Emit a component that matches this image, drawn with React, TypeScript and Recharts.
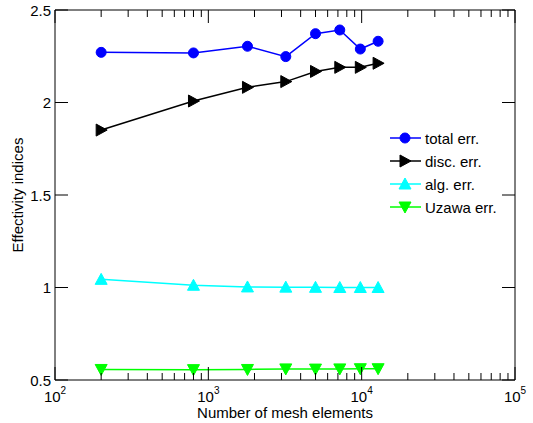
import { LineChart, Line, XAxis, YAxis, Legend } from "recharts";

// number of mesh elements (log x axis)
const meshElements = [200, 800, 1800, 3200, 5000, 7200, 9800, 12800];
const totalErr = [2.271, 2.268, 2.304, 2.248, 2.372, 2.392, 2.289, 2.331];
const discErr = [1.851, 2.008, 2.082, 2.113, 2.168, 2.19, 2.19, 2.212];
const algErr = [1.044, 1.012, 1.003, 1.002, 1.001, 1.0, 1.0, 1.0];
const uzawaErr = [0.557, 0.556, 0.557, 0.56, 0.559, 0.56, 0.561, 0.561];

const seriesNames = ["total err.", "disc. err.", "alg. err.", "Uzawa err."];
const xMajorTicks = [100, 1000, 10000, 100000];
const yTicks = [0.5, 1, 1.5, 2, 2.5];

// majors plus the 2..9 minors of each decade
const xTicks: number[] = [];
xMajorTicks.forEach((m, i) => {
  xTicks.push(m);
  if (i < xMajorTicks.length - 1) for (let k = 2; k <= 9; k++) xTicks.push(m * k);
});

const data = meshElements.map((n, i) => ({
  n,
  total: totalErr[i],
  disc: discErr[i],
  alg: algErr[i],
  uzawa: uzawaErr[i],
}));

type Shape = "circle" | "right" | "up" | "down";

const series: { key: string; name: string; color: string; shape: Shape }[] = [
  { key: "total", name: seriesNames[0], color: "#0000ff", shape: "circle" },
  { key: "disc", name: seriesNames[1], color: "#000000", shape: "right" },
  { key: "alg", name: seriesNames[2], color: "#00ffff", shape: "up" },
  { key: "uzawa", name: seriesNames[3], color: "#00ff00", shape: "down" },
];

const FONT = "'Liberation Sans', Arial, Helvetica, sans-serif";
const MAJOR = 13;
const MINOR = 7;

function Marker({ cx, cy, shape, color }: { cx: number; cy: number; shape: Shape; color: string }) {
  if (cx == null || cy == null) return null;
  if (shape === "circle") return <circle cx={cx} cy={cy} r={5} fill={color} stroke={color} />;
  let pts = "";
  if (shape === "right") pts = `${cx - 5},${cy - 6} ${cx + 6},${cy} ${cx - 5},${cy + 6}`;
  if (shape === "up") pts = `${cx - 6},${cy + 5} ${cx + 6},${cy + 5} ${cx},${cy - 6}`;
  if (shape === "down") pts = `${cx - 6},${cy - 5} ${cx + 6},${cy - 5} ${cx},${cy + 6}`;
  return <polygon points={pts} fill={color} stroke={color} />;
}

const isMajor = (v: number) => xMajorTicks.includes(v);

const BottomTick = ({ x, y, payload }: any) => {
  const v = payload.value;
  const major = isMajor(v);
  return (
    <g>
      <line x1={x} x2={x} y1={y} y2={y - (major ? MAJOR : MINOR)} stroke="#000" />
      {major && (
        <text x={x} y={y + 22} textAnchor="middle" fontSize={15} fill="#000" fontFamily={FONT}>
          10
          <tspan dy={-8} fontSize={10}>
            {Math.round(Math.log10(v))}
          </tspan>
        </text>
      )}
    </g>
  );
};

const TopTick = ({ x, y, payload }: any) => {
  const major = isMajor(payload.value);
  return <line x1={x} x2={x} y1={y} y2={y + (major ? MAJOR : MINOR)} stroke="#000" />;
};

const LeftTick = ({ x, y, payload }: any) => (
  <g>
    <line x1={x} x2={x + MAJOR} y1={y} y2={y} stroke="#000" />
    <text x={x - 4} y={y + 5.5} textAnchor="end" fontSize={15} fill="#000" fontFamily={FONT}>
      {payload.value}
    </text>
  </g>
);

const RightTick = ({ x, y }: any) => <line x1={x} x2={x - MAJOR} y1={y} y2={y} stroke="#000" />;

function LegendBox() {
  return (
    <svg width={130} height={96} style={{ display: "block" }}>
      {series.map((s, i) => {
        const cy = 10 + i * 23;
        return (
          <g key={s.key}>
            <line x1={2} x2={33} y1={cy} y2={cy} stroke={s.color} strokeWidth={1.5} />
            <Marker cx={17} cy={cy} shape={s.shape} color={s.color} />
            <text x={37} y={cy + 5.5} fontSize={15} fill="#000" fontFamily={FONT}>
              {s.name}
            </text>
          </g>
        );
      })}
    </svg>
  );
}

export default function App() {
  return (
    <div style={{ position: "absolute", left: 0, top: 0, fontFamily: FONT, background: "#fff" }}>
      <LineChart width={533} height={423} data={data} margin={{ top: 9, right: 17, left: 0, bottom: 0 }}>
        <XAxis
          dataKey="n"
          type="number"
          scale="log"
          domain={[100, 100000]}
          allowDataOverflow
          ticks={xTicks}
          interval={0}
          height={43}
          tickSize={0}
          tickMargin={0}
          tickLine={false}
          tick={<BottomTick />}
          axisLine={{ stroke: "#000" }}
          label={{ value: "Number of mesh elements", position: "insideBottom", offset: 5, fontSize: 15, fill: "#000" }}
        />
        <XAxis
          xAxisId="top"
          orientation="top"
          dataKey="n"
          type="number"
          scale="log"
          domain={[100, 100000]}
          allowDataOverflow
          ticks={xTicks}
          interval={0}
          height={1}
          tickSize={0}
          tickMargin={0}
          tickLine={false}
          tick={<TopTick />}
          axisLine={{ stroke: "#000" }}
        />
        <YAxis
          type="number"
          domain={[0.5, 2.5]}
          allowDataOverflow
          ticks={yTicks}
          interval={0}
          width={55}
          tickSize={0}
          tickMargin={0}
          tickLine={false}
          tick={<LeftTick />}
          axisLine={{ stroke: "#000" }}
          label={{
            value: "Effectivity indices",
            angle: -90,
            position: "insideLeft",
            offset: 18,
            fontSize: 15,
            fill: "#000",
            style: { textAnchor: "middle" },
          }}
        />
        <YAxis
          yAxisId="right"
          orientation="right"
          type="number"
          domain={[0.5, 2.5]}
          allowDataOverflow
          ticks={yTicks}
          interval={0}
          width={1}
          tickSize={0}
          tickMargin={0}
          tickLine={false}
          tick={<RightTick />}
          axisLine={{ stroke: "#000" }}
        />
        {series.map((s) => (
          <Line
            key={s.key}
            dataKey={s.key}
            name={s.name}
            stroke={s.color}
            strokeWidth={1.5}
            isAnimationActive={false}
            activeDot={false}
            dot={(p: any) => <Marker key={`${s.key}-${p.index}`} cx={p.cx} cy={p.cy} shape={s.shape} color={s.color} />}
          />
        ))}
        <Legend
          layout="vertical"
          align="center"
          verticalAlign="middle"
          content={() => <LegendBox />}
          wrapperStyle={{ left: 388, top: 128, width: 130 }}
        />
      </LineChart>
    </div>
  );
}
